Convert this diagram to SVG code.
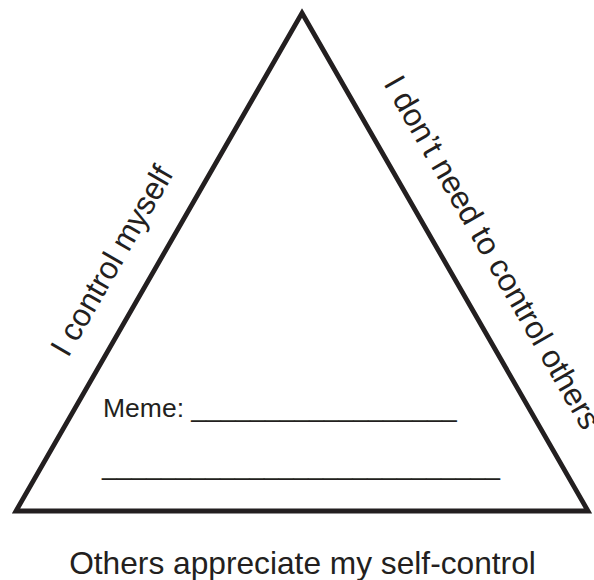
<svg xmlns="http://www.w3.org/2000/svg" width="594" height="580" viewBox="0 0 594 580">
<style>
.t{font-family:"Liberation Sans",Arial,Helvetica,sans-serif;fill:#231f20}
</style>
<rect width="594" height="580" fill="#ffffff"/>
<g id="triangle">
<polygon points="302,13 588,511 16,511" fill="none" stroke="#231f20" stroke-width="4.8" stroke-linejoin="miter" stroke-miterlimit="10"/>
</g>
<g id="left-label">
<text class="t" font-size="31.7" transform="translate(68,358.5) rotate(-60.13)">I control myself</text>
</g>
<g id="right-label">
<text class="t" font-size="31.7" transform="translate(383,83.5) rotate(60.13)">I don’t need to control others</text>
</g>
<g id="meme">
<text class="t" font-size="26.5" x="103" y="417">Meme: __________________</text>
<text class="t" font-size="26.5" x="102" y="475">___________________________</text>
</g>
<g id="bottom-label">
<text class="t" font-size="31.7" x="302.5" y="574" text-anchor="middle">Others appreciate my self-control</text>
</g>
</svg>
